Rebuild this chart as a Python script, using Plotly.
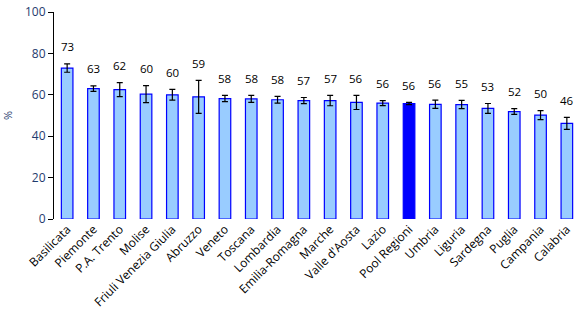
import plotly.graph_objects as go

regions = ["Basilicata", "Piemonte", "P.A. Trento", "Molise", "Friuli Venezia Giulia",
           "Abruzzo", "Veneto", "Toscana", "Lombardia", "Emilia-Romagna", "Marche",
           "Valle d'Aosta", "Lazio", "Pool Regioni", "Umbria", "Liguria", "Sardegna",
           "Puglia", "Campania", "Calabria"]
values = [72.9, 63.0, 62.5, 60.3, 60.0, 59.0, 58.2, 58.0, 57.6, 57.2, 57.2, 56.3,
          56.0, 55.8, 55.4, 55.3, 53.4, 51.9, 50.2, 46.2]
errors = [2.0, 1.3, 3.4, 4.1, 2.6, 8.0, 1.5, 1.7, 1.6, 1.5, 2.5, 3.4,
          1.2, 0.5, 2.0, 2.0, 2.4, 1.4, 2.2, 2.9]
labels = ["73", "63", "62", "60", "60", "59", "58", "58", "58", "57", "57", "56",
          "56", "56", "56", "55", "53", "52", "50", "46"]
highlight = "Pool Regioni"

fill = ["#0000FF" if r == highlight else "#99CCFF" for r in regions]

fig = go.Figure()
fig.add_trace(go.Bar(
    x=regions, y=values,
    marker=dict(color=fill, line=dict(color="#0000FF", width=1.2)),
    error_y=dict(type="data", array=errors, visible=True, color="black",
                 thickness=1.2, width=3),
    hoverinfo="skip",
))

for r, v, e, t in zip(regions, values, errors, labels):
    fig.add_annotation(x=r, y=v + e, text=t, showarrow=False,
                       yanchor="middle", yshift=17,
                       font=dict(family="Open Sans", size=11.5, color="black"))

fig.update_layout(
    width=580, height=321,
    margin=dict(l=54, r=0, t=12, b=102, autoexpand=False),
    plot_bgcolor="white", paper_bgcolor="white",
    bargap=0.56,
    showlegend=False,
    font=dict(family="Open Sans", size=11, color="black"),
)
fig.update_xaxes(
    tickangle=-45, showline=False, showgrid=False, ticks="",
    tickfont=dict(family="Open Sans", size=12, color="black"),
    range=[-0.5, len(regions) - 0.5],
)
fig.update_yaxes(
    range=[0, 100], dtick=20, showgrid=False, zeroline=False,
    showline=True, linecolor="black", linewidth=1,
    ticks="outside", ticklen=5, tickcolor="black",
    ticklabeloverflow="allow",
    tickfont=dict(family="Open Sans", size=12, color="#1F3B6E"),
    title=dict(text="%", font=dict(family="Open Sans", size=11, color="#1F3B6E"), standoff=18),
)

fig.write_html("out.html", config={"displayModeBar": False},
               post_script="document.body.style.margin='0px';")
